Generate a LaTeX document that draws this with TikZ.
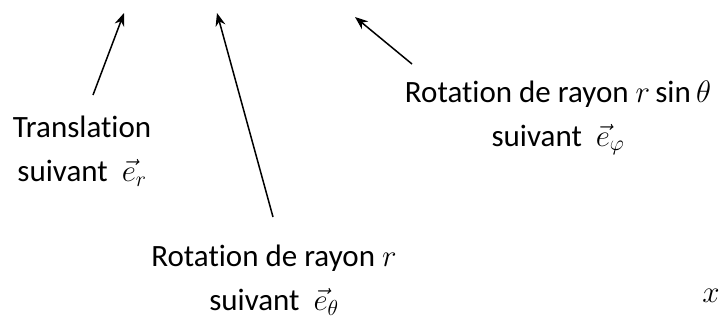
\RequirePackage{fix-cm}
\documentclass[tikz,border=0pt]{standalone}
\usepackage{fontspec}
\setmainfont{Carlito}[Ligatures=NoCommon]
\usetikzlibrary{arrows.meta, positioning}

\begin{document}
\begin{tikzpicture}[x=1pt, y=-1pt, line width=1.5pt,
    lbl/.style={align=center, inner sep=0pt, font=\fontsize{31}{44}\selectfont},
    fleche/.style={-{Stealth[length=13pt, width=10pt]}}]
    \useasboundingbox (0,0) rectangle (722,322);

    % labels
    \node[lbl] (trans) at (82,151) {Translation\\suivant~ $\vec{e}_r$};
    \node[lbl] (rotr) at (274,280) {Rotation de rayon $r$\\suivant~ $\vec{e}_\theta$};
    \node[lbl] (rotsin) at (558,118) {Rotation de rayon $r\sin\theta$\\suivant~ $\vec{e}_\varphi$};
    \node[lbl] (axex) at (711,296) {$x$};

    % arrow ends
    \coordinate (ta) at (93,95);
    \coordinate (ha) at (124,13);
    \coordinate (tb) at (273,217);
    \coordinate (hb) at (217,13);
    \coordinate (tc) at (412,64);
    \coordinate (hc) at (355,17);

    % arrows
    \draw[fleche] (ta) -- (ha);
    \draw[fleche] (tb) -- (hb);
    \draw[fleche] (tc) -- (hc);
\end{tikzpicture}
\end{document}
